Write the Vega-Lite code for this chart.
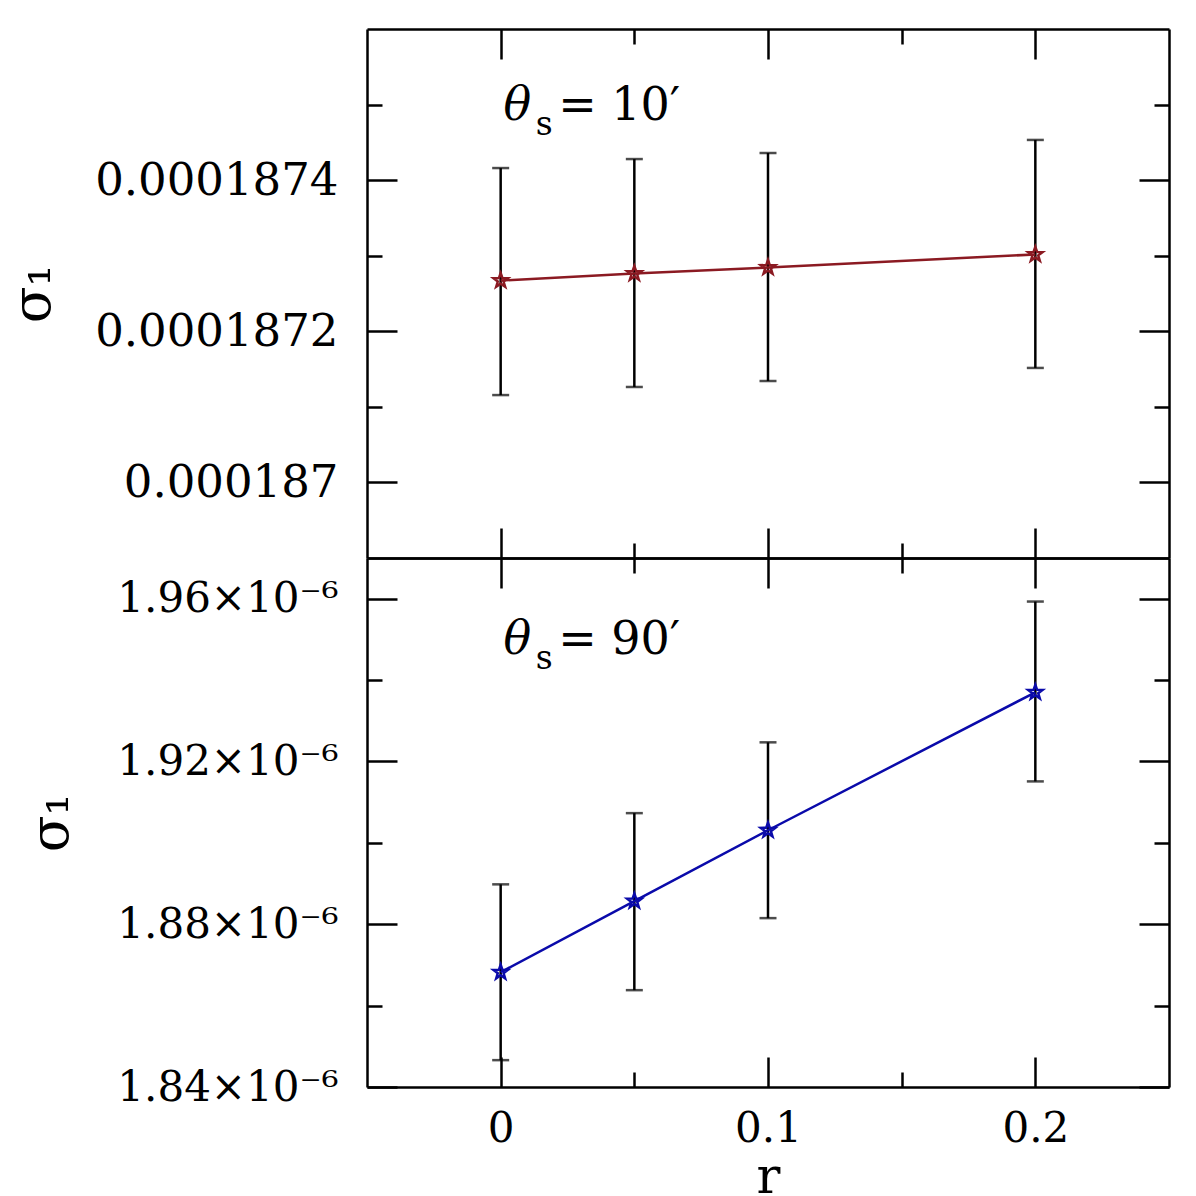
{
  "$schema": "https://vega.github.io/schema/vega-lite/v6.json",
  "padding": {"left": 6, "top": 27, "right": 20, "bottom": 0},
  "spacing": 0,
  "bounds": "flush",
  "config": {
    "view": {"stroke": null},
    "axis": {"domainColor": "black", "domainWidth": 2.5, "tickColor": "black", "tickWidth": 2.5, "grid": false, "labelFont": "DejaVu Serif", "titleFont": "DejaVu Serif", "labelColor": "black", "titleColor": "black", "titleFontWeight": "normal", "labelLimit": 0, "minExtent": 0, "maxExtent": 500}
  },
  "datasets": {
    "top": [
      {"r": 0, "y": 0.0001872671, "lo": 0.0001871156, "hi": 0.000187416},
      {"r": 0.05, "y": 0.0001872764, "lo": 0.0001871263, "hi": 0.0001874279},
      {"r": 0.1, "y": 0.0001872844, "lo": 0.0001871342, "hi": 0.0001874359},
      {"r": 0.2, "y": 0.0001873017, "lo": 0.0001871515, "hi": 0.0001874532}
    ],
    "bot": [
      {"r": 0, "y": 1.8682e-6, "lo": 1.8466e-6, "hi": 1.8898e-6},
      {"r": 0.05, "y": 1.8857e-6, "lo": 1.8638e-6, "hi": 1.9073e-6},
      {"r": 0.1, "y": 1.9031e-6, "lo": 1.8815e-6, "hi": 1.9247e-6},
      {"r": 0.2, "y": 1.937e-6, "lo": 1.9151e-6, "hi": 1.9593e-6}
    ]
  },
  "vconcat": [
    {
      "width": 802,
      "height": 529,
      "resolve": {"axis": {"x": "independent", "y": "independent"}},
      "layer": [
        {
          "data": {"name": "top"},
          "mark": {"type": "rule", "color": "black", "strokeWidth": 2.5},
          "encoding": {
            "x": {"field": "r", "type": "quantitative", "scale": {"domain": [-0.05, 0.25], "nice": false, "zero": false}, "axis": {"orient": "bottom", "values": [0, 0.1, 0.2], "tickSize": -30, "labels": false, "title": null}},
            "y": {"field": "lo", "type": "quantitative", "scale": {"domain": [0.0001869, 0.0001876], "nice": false, "zero": false}, "axis": {"orient": "left", "values": [0.000187, 0.0001872, 0.0001874], "tickSize": -30, "format": ".7~f", "labelFontSize": 45, "labelPadding": 59, "title": "σ₁", "titleFontSize": 54, "titlePadding": 34}},
            "y2": {"field": "hi"}
          }
        },
        {
          "data": {"name": "top"},
          "mark": {"type": "tick", "orient": "horizontal", "color": "black", "size": 17, "thickness": 2.5},
          "encoding": {
            "x": {"field": "r", "type": "quantitative", "axis": {"orient": "bottom", "values": [0.05, 0.15], "tickSize": -15, "labels": false, "domain": false, "title": null}},
            "y": {"field": "hi", "type": "quantitative", "axis": {"orient": "left", "values": [0.0001871, 0.0001873, 0.0001875], "tickSize": -15, "labels": false, "domain": false, "title": null}}
          }
        },
        {
          "data": {"name": "top"},
          "mark": {"type": "tick", "orient": "horizontal", "color": "black", "size": 17, "thickness": 2.5},
          "encoding": {
            "x": {"field": "r", "type": "quantitative", "axis": {"orient": "top", "values": [0, 0.1, 0.2], "tickSize": -30, "labels": false, "title": null}},
            "y": {"field": "lo", "type": "quantitative", "axis": {"orient": "right", "values": [0.000187, 0.0001872, 0.0001874], "tickSize": -30, "labels": false, "title": null}}
          }
        },
        {
          "data": {"name": "top"},
          "mark": {"type": "line", "color": "#8b1a22", "strokeWidth": 2.5},
          "encoding": {
            "x": {"field": "r", "type": "quantitative", "axis": {"orient": "top", "values": [0.05, 0.15], "tickSize": -15, "labels": false, "domain": false, "title": null}},
            "y": {"field": "y", "type": "quantitative", "axis": {"orient": "right", "values": [0.0001871, 0.0001873, 0.0001875], "tickSize": -15, "labels": false, "domain": false, "title": null}}
          }
        },
        {
          "data": {"name": "top"},
          "mark": {"type": "point", "shape": "M0,-1L0.235,-0.324L0.951,-0.309L0.38,0.124L0.588,0.809L0,0.4L-0.588,0.809L-0.38,0.124L-0.951,-0.309L-0.235,-0.324Z", "filled": false, "color": "#8b1a22", "strokeWidth": 2.5, "size": 230, "opacity": 1},
          "encoding": {
            "x": {"field": "r", "type": "quantitative", "axis": null},
            "y": {"field": "y", "type": "quantitative", "axis": null}
          }
        },
        {
          "data": {"values": [{"r": 0.0011, "y": 0.0001874797, "t": "θ"}]},
          "mark": {"type": "text", "align": "left", "baseline": "alphabetic", "font": "DejaVu Serif", "fontStyle": "italic", "fontSize": 46, "color": "black"},
          "encoding": {"x": {"field": "r", "type": "quantitative", "axis": null}, "y": {"field": "y", "type": "quantitative", "axis": null}, "text": {"field": "t"}}
        },
        {
          "data": {"values": [{"r": 0.0131, "y": 0.0001874598, "t": "s"}]},
          "mark": {"type": "text", "align": "left", "baseline": "alphabetic", "font": "DejaVu Serif", "fontSize": 33, "color": "black"},
          "encoding": {"x": {"field": "r", "type": "quantitative", "axis": null}, "y": {"field": "y", "type": "quantitative", "axis": null}, "text": {"field": "t"}}
        },
        {
          "data": {"values": [{"r": 0.0215, "y": 0.0001874797, "t": "= 10′"}]},
          "mark": {"type": "text", "align": "left", "baseline": "alphabetic", "font": "DejaVu Serif", "fontSize": 46, "color": "black"},
          "encoding": {"x": {"field": "r", "type": "quantitative", "axis": null}, "y": {"field": "y", "type": "quantitative", "axis": null}, "text": {"field": "t"}}
        }
      ]
    },
    {
      "width": 802,
      "height": 529,
      "resolve": {"axis": {"x": "independent", "y": "independent"}},
      "layer": [
        {
          "data": {"name": "bot"},
          "mark": {"type": "rule", "color": "black", "strokeWidth": 2.5},
          "encoding": {
            "x": {"field": "r", "type": "quantitative", "scale": {"domain": [-0.05, 0.25], "nice": false, "zero": false}, "axis": {"orient": "bottom", "values": [0, 0.1, 0.2], "tickSize": -30, "labels": true, "format": ".1~f", "labelFontSize": 42, "labelPadding": 51, "title": "r", "titleFontSize": 50, "titlePadding": 3}},
            "y": {"field": "lo", "type": "quantitative", "scale": {"domain": [1.84e-6, 1.97e-6], "nice": false, "zero": false}, "axis": {"orient": "left", "values": [1.84e-6, 1.88e-6, 1.92e-6, 1.96e-6], "tickSize": -30, "labelExpr": "format(datum.value*1e6,'.2f')+'×10⁻⁶'", "labelFontSize": 42, "labelPadding": 59, "title": "σ₁", "titleFontSize": 54, "titlePadding": 38}},
            "y2": {"field": "hi"}
          }
        },
        {
          "data": {"name": "bot"},
          "mark": {"type": "tick", "orient": "horizontal", "color": "black", "size": 17, "thickness": 2.5},
          "encoding": {
            "x": {"field": "r", "type": "quantitative", "axis": {"orient": "bottom", "values": [0.05, 0.15], "tickSize": -15, "labels": false, "domain": false, "title": null}},
            "y": {"field": "hi", "type": "quantitative", "axis": {"orient": "left", "values": [1.86e-6, 1.9e-6, 1.94e-6], "tickSize": -15, "labels": false, "domain": false, "title": null}}
          }
        },
        {
          "data": {"name": "bot"},
          "mark": {"type": "tick", "orient": "horizontal", "color": "black", "size": 17, "thickness": 2.5},
          "encoding": {
            "x": {"field": "r", "type": "quantitative", "axis": {"orient": "top", "values": [0, 0.1, 0.2], "tickSize": -30, "labels": false, "title": null}},
            "y": {"field": "lo", "type": "quantitative", "axis": {"orient": "right", "values": [1.84e-6, 1.88e-6, 1.92e-6, 1.96e-6], "tickSize": -30, "labels": false, "title": null}}
          }
        },
        {
          "data": {"name": "bot"},
          "mark": {"type": "line", "color": "#0a0aaa", "strokeWidth": 2.5},
          "encoding": {
            "x": {"field": "r", "type": "quantitative", "axis": {"orient": "top", "values": [0.05, 0.15], "tickSize": -15, "labels": false, "domain": false, "title": null}},
            "y": {"field": "y", "type": "quantitative", "axis": {"orient": "right", "values": [1.86e-6, 1.9e-6, 1.94e-6], "tickSize": -15, "labels": false, "domain": false, "title": null}}
          }
        },
        {
          "data": {"name": "bot"},
          "mark": {"type": "point", "shape": "M0,-1L0.235,-0.324L0.951,-0.309L0.38,0.124L0.588,0.809L0,0.4L-0.588,0.809L-0.38,0.124L-0.951,-0.309L-0.235,-0.324Z", "filled": false, "color": "#0a0aaa", "strokeWidth": 2.5, "size": 230, "opacity": 1},
          "encoding": {
            "x": {"field": "r", "type": "quantitative", "axis": null},
            "y": {"field": "y", "type": "quantitative", "axis": null}
          }
        },
        {
          "data": {"values": [{"r": 0.0011, "y": 1.94648e-6, "t": "θ"}]},
          "mark": {"type": "text", "align": "left", "baseline": "alphabetic", "font": "DejaVu Serif", "fontStyle": "italic", "fontSize": 46, "color": "black"},
          "encoding": {"x": {"field": "r", "type": "quantitative", "axis": null}, "y": {"field": "y", "type": "quantitative", "axis": null}, "text": {"field": "t"}}
        },
        {
          "data": {"values": [{"r": 0.0131, "y": 1.94279e-6, "t": "s"}]},
          "mark": {"type": "text", "align": "left", "baseline": "alphabetic", "font": "DejaVu Serif", "fontSize": 33, "color": "black"},
          "encoding": {"x": {"field": "r", "type": "quantitative", "axis": null}, "y": {"field": "y", "type": "quantitative", "axis": null}, "text": {"field": "t"}}
        },
        {
          "data": {"values": [{"r": 0.0215, "y": 1.94648e-6, "t": "= 90′"}]},
          "mark": {"type": "text", "align": "left", "baseline": "alphabetic", "font": "DejaVu Serif", "fontSize": 46, "color": "black"},
          "encoding": {"x": {"field": "r", "type": "quantitative", "axis": null}, "y": {"field": "y", "type": "quantitative", "axis": null}, "text": {"field": "t"}}
        }
      ]
    }
  ]
}
